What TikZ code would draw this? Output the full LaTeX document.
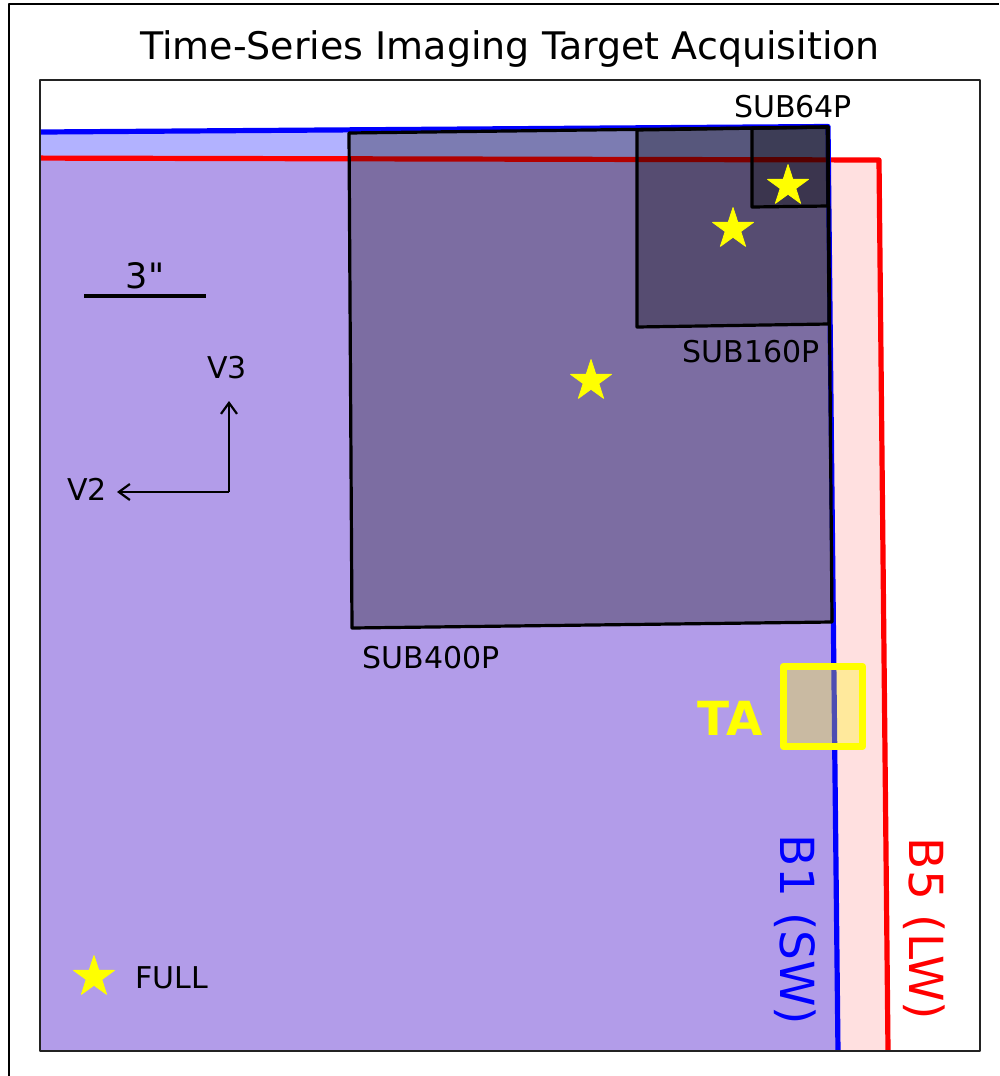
\documentclass[tikz,border=0pt]{standalone}
\usepackage{fontspec}
\setmainfont{DejaVu Sans}
\usetikzlibrary{arrows.meta,shapes.geometric}
\definecolor{swblue}{RGB}{0,0,255}
\definecolor{lwred}{RGB}{255,0,0}
\definecolor{tayellow}{RGB}{255,255,0}
\definecolor{axisgray}{RGB}{35,35,35}

\begin{document}
\begin{tikzpicture}[x=1pt,y=-1pt,line join=round,>={Straight Barb[length=11pt,width=16pt]},
 lbl/.style={font=\fontsize{30}{36}\selectfont,anchor=base,inner sep=0pt},
 bandlbl/.style={font=\fontsize{47}{56}\selectfont,rotate=-90,inner sep=0pt},
 subbox/.style={fill=black,fill opacity=.3,draw=black,draw opacity=1,line width=3.2pt},
 starmark/.style={star,star points=5,star point ratio=2.618,fill=tayellow,draw=tayellow,
  line width=.8pt,inner sep=0pt,minimum size=43pt}]
\useasboundingbox (0,0) rectangle (999,1076);
% Ramka zrzutu ekranu (tylko lewa i górna krawędź).
\draw[line width=2pt,black] (8.5,1076) -- (8.5,3.5) -- (999,3.5);
\node[font=\fontsize{38}{44}\selectfont,anchor=base,inner sep=0pt] (title) at (510,59)
 {Time-Series Imaging Target Acquisition};
% Pola widzenia modułów B5 i B1, przycięte do osi.
\begin{scope}
\clip (40,80) rectangle (980,1051);
\fill[lwred,opacity=.12] (0,158) -- (879,160) -- (888.3,1080) -- (0,1080) -- cycle;
\fill[swblue,opacity=.3] (0,132.3) -- (828,126.5) -- (838.3,1080) -- (0,1080) -- cycle;
\draw[lwred,line width=5.2pt] (0,158) -- (879,160) -- (888.3,1080);
\draw[swblue,line width=5.2pt] (0,132.3) -- (828,126.5) -- (838.3,1080);
% Podmacierze.
\draw[subbox] (349,133) -- (828,127) -- (832,622) -- (352,628) -- cycle;
\draw[subbox] (637,130) -- (828,127) -- (829,324) -- (637,327) -- cycle;
\draw[subbox] (752,128) -- (828,127) -- (828,206) -- (752,207) -- cycle;
\end{scope}
\draw[axisgray,line width=1.8pt] (40,80) rectangle (980,1051);
\node[starmark] (star400) at (591,381) {};
\node[starmark] (star160) at (733,229) {};
\node[starmark] (star64) at (788,186) {};
\node[lbl] (lab64) at (793,117) {SUB64P};
\node[lbl] (lab160) at (751,362) {SUB160P};
\node[lbl] (lab400) at (431,668) {SUB400P};
% Pole TA.
\draw[tayellow,line width=7.5pt,fill=tayellow,fill opacity=.3,draw opacity=1]
 (783.5,666.5) rectangle (862.5,746.5);
\node[font=\fontsize{47}{56}\selectfont\bfseries,text=tayellow,anchor=base,inner sep=0pt]
 (talabel) at (730,735) {TA};
\node[bandlbl,text=swblue] (b1label) at (795,930) {B1 (SW)};
\node[bandlbl,text=lwred] (b5label) at (924,929) {B5 (LW)};
% Skala i kierunki V2/V3.
\coordinate (barl) at (84,296);
\coordinate (barr) at (206,296);
\draw[line width=3.2pt] (barl) -- (barr);
\node[font=\fontsize{35}{42}\selectfont,anchor=base,inner sep=0pt] (barlabel) at (145,288)
 {3\textquotedbl};
\coordinate (compass) at (229,492);
\coordinate (v3tip) at (229,401);
\coordinate (v2tip) at (117,492);
\draw[->,line width=2.2pt] (compass) -- (v3tip);
\draw[->,line width=2.2pt] (compass) -- (v2tip);
\node[lbl] (v3label) at (227,378) {V3};
\node[lbl] (v2label) at (87,500) {V2};
% Legenda.
\node[starmark] (fullstar) at (94,977) {};
\node[lbl] (fulllabel) at (172,988) {FULL};
\end{tikzpicture}
\end{document}
